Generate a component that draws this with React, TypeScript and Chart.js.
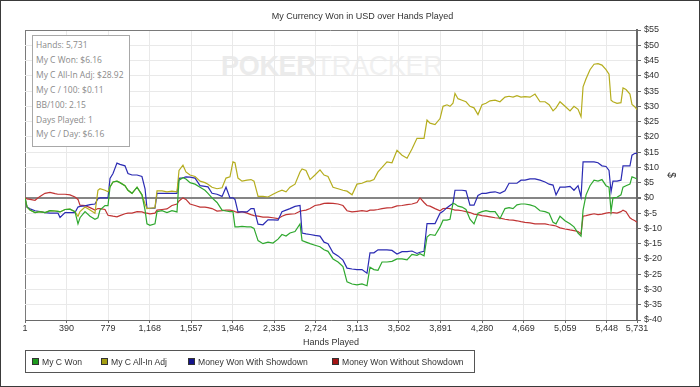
import React, { useEffect, useRef } from 'react';
import { Chart, registerables } from 'chart.js';

Chart.register(...registerables);

const chartTitle = 'My Currency Won in USD over Hands Played';
const xAxisTitle = 'Hands Played';
const yAxisTitle = '$';

const hands = [
  1, 20, 48, 95, 141, 188, 235, 282, 310, 329,
  376, 422, 469, 497, 516, 563, 610, 656, 684, 703,
  750, 778, 797, 825, 862, 890, 937, 965, 1003, 1050,
  1096, 1125, 1143, 1171, 1218, 1237, 1284, 1330, 1377, 1424,
  1443, 1480, 1508, 1546, 1593, 1640, 1686, 1714, 1752, 1799,
  1846, 1883, 1920, 1948, 1967, 1995, 2033, 2080, 2117, 2145,
  2183, 2229, 2276, 2323, 2370, 2407, 2445, 2482, 2529, 2576,
  2595, 2632, 2670, 2716, 2763, 2801, 2838, 2885, 2932, 2978,
  3016, 3063, 3109, 3156, 3203, 3231, 3268, 3306, 3344, 3390,
  3437, 3484, 3531, 3578, 3624, 3671, 3699, 3737, 3765, 3793,
  3840, 3887, 3915, 3952, 3980, 4008, 4027, 4055, 4093, 4130,
  4167, 4205, 4242, 4280, 4317, 4355, 4402, 4448, 4495, 4533,
  4570, 4607, 4645, 4682, 4729, 4776, 4823, 4870, 4908, 4945,
  4973, 5010, 5057, 5104, 5141, 5179, 5207, 5226, 5254, 5291,
  5329, 5366, 5403, 5441, 5469, 5488, 5506, 5544, 5581, 5600,
  5628, 5665, 5684, 5712, 5731,
];

const myCWon = [
  0, -3, -4, -4.8, -4.5, -4.8, -4.2, -4.3, -4.4, -4.6,
  -3.8, -3.7, -4.5, -8.5, -6.5, -4.5, -6, -7, -6.5, -4,
  -2.5, -2.5, 3.6, 5.2, 5.5, 5, 4, 2.5, 1.5, 3.5,
  1, -4, -8.5, -9, -8.5, -4.5, -4.2, -4.8, -4.2, -4.6,
  5.8, 6.6, 6.2, 5, 4.5, 3.5, 2.5, 1.5, 0, -1.5,
  -4, -4.3, -4.5, -4.5, -9.5, -9.5, -9.3, -9.5, -9.5, -10,
  -14, -15, -14.5, -14.8, -13.5, -12, -12.5, -11.5, -11, -8.5,
  -14, -14.5, -15, -15.5, -16, -17, -17.5, -20, -21, -22.5,
  -27.5, -28.2, -28.5, -28.2, -28.8, -22.7, -23.5, -23.7, -21, -21,
  -20.8, -20, -20, -20.3, -18.5, -18.8, -18.3, -19, -12.8, -12,
  -12.3, -9.5, -7.3, -7.3, -7, -1.8, -2, -2.7, -3, -3.8,
  -7, -8.5, -5, -4.5, -4.2, -4.5, -4.5, -6.8, -3.5, -3.2,
  -3.5, -2.3, -2, -2, -2.3, -2.8, -4.2, -4.5, -5, -8,
  -8.5, -6, -7.5, -8.5, -9.5, -11.5, -12.5, -4, 1, 4,
  5.8, 5.5, 6, 4, 3.5, -4.4, 0, 0.2, 1, 3.5,
  4, 4.5, 6.9, 6.5, 6.16,
];

const myCAllInAdj = [
  0, -3, -4, -4.8, -4.5, -4.8, -4.2, -4.3, -4.4, -4.6,
  -3.8, -3.7, -4.5, -6, -4.5, -3, -4, -5, 2.5, 3,
  2.5, 2, 3.6, 5.2, 5.5, 5, 4, 2.5, 1.5, 3.5,
  1, -2, -3.5, -3.4, -3.2, 2.3, 2.3, 2, 2.2, 2,
  9, 10.7, 8.5, 7.5, 7, 5.5, 5, 4.5, 3.5, 3,
  3.3, 6.5, 6.9, 11.8, 11.5, 6.5, 5.5, 5.8, 6, 5.5,
  0.5, 0.5, 0.3, 1.2, 2, 2.5, 2, 3.5, 4.5, 8.5,
  9.5, 9, 6, 7.5, 9.2, 7.5, 7, 3.5, 3, 2.5,
  2.2, 1, 4.5, 4.8, 5.5, 5.5, 6, 8.5, 10, 11.8,
  11.5, 15.6, 14, 13, 16, 19.5, 19.5, 19.5, 25.5, 24.5,
  24, 26, 30, 30.5, 30, 31, 34.2, 32.5, 32, 31.5,
  30, 29.5, 27.3, 30.5, 31, 31.8, 32, 31.5, 33, 33.3,
  33, 33.5, 33, 33.2, 33, 34, 31.5, 31.5, 30.5, 28.5,
  29.5, 31.5, 30, 28.5, 30, 29, 26.6, 36.4, 39, 42,
  43.8, 44, 43.5, 42, 40.5, 32, 31.5, 31, 31.2, 36,
  35.5, 34, 30.6, 29.8, 28.92,
];

const wonWithShowdown = [
  0, -3, -3.6, -4.2, -4.5, -4.8, -5, -5, -5, -6.4,
  -4.8, -4.8, -4.8, -3, -2.8, -2.6, -2.2, -2, -0.3, 0,
  0, 0, 6.4, 8, 11.4, 11, 10.5, 8, 7.5, 7.5,
  7, 3, -3.4, -3.4, -3.4, 1.5, 1.5, 1.5, 1.5, 1.5,
  6.4, 6.6, 6.9, 6.8, 6.5, 4, 3.8, 3.6, 1.5, 1.2,
  0.5, 3.5, 0, 0, -0.5, -4.6, -4.6, -4.6, -3.5, -3.5,
  -8.6, -8.8, -7.2, -7.2, -7.3, -4.5, -4, -3.5, -2.8, -2.5,
  -11.5, -11.8, -12, -12.3, -12.5, -14.5, -15, -18, -19, -20.4,
  -23, -23.3, -23.5, -23.5, -24.7, -18, -18, -17, -17, -17,
  -17.2, -18.4, -17.6, -17.6, -17.4, -18.2, -17.8, -17.5, -8.4, -8.4,
  -8.4, -5, -4.4, -3.2, -2.5, -1.8, 2.5, 2.5, 2.5, 2.3,
  -2.4, -2.4, 0.8, 1.5, 1.5, 1.8, 2, 1.5, 2.3, 4.8,
  4.8, 4.8, 5.8, 5.8, 6.2, 6.2, 5.8, 5.2, 4.5, 4.2,
  1, 3.5, 3.5, 3.8, 2.5, 4, 0.3, 11.8, 11.8, 11.8,
  11.8, 11.5, 10.5, 10.3, 9, 2, 5.5, 5.5, 5.8, 10.5,
  10.5, 10.5, 14, 14.6, 14.6,
];

const wonWithoutShowdown = [
  0, -0.3, -0.5, -0.8, 0.5, 1.5, 1.8, 1.4, 1.2, 1.2,
  1.2, 1, 0.3, -0.5, -2.4, -2.5, -3.2, -4, -3.5, -3.5,
  -3.8, -5.7, -5.8, -6, -6.2, -5.8, -5.2, -5, -5, -4.5,
  -4.6, -5, -5, -5.2, -5, -4, -3.8, -3.6, -2.5, -2,
  -1, 0, -0.5, -2, -2.5, -3, -3, -3.2, -3.5, -4.3,
  -4.2, -4, -4, -4.2, -4.5, -4.8, -4.5, -5, -5.5, -5.8,
  -6, -6.3, -6.3, -6.5, -6.8, -6, -5.5, -5.3, -5.2, -4.4,
  -4.2, -4, -3.5, -2.5, -2.2, -1.8, -1.7, -1.8, -2, -2.5,
  -4.2, -4.6, -4.4, -4.2, -4.4, -4, -4, -3.8, -3.5, -3.3,
  -3.2, -2.6, -2.5, -2.2, -2, -1.5, 0, -1.5, -2.5, -2.7,
  -3.5, -4.2, -3.5, -3.4, -3.5, -3.8, -4, -4, -4.2, -4.5,
  -4.8, -5.3, -5.5, -5.8, -6, -6.2, -6.5, -6.6, -7, -7.2,
  -7.3, -7.5, -7.8, -8, -8.2, -8.5, -8.5, -8.5, -8.8, -9,
  -9.2, -9.8, -10.2, -10.5, -10.7, -11, -11.8, -6, -5.8, -5.5,
  -5.2, -5.5, -5.3, -5, -4.8, -5, -4.8, -5, -4.5, -4,
  -4.5, -6.5, -7, -7.5, -8,
];

const xTickHands = [1, 390, 779, 1168, 1557, 1946, 2335, 2724, 3113, 3502, 3891, 4280, 4669, 5059, 5448, 5731];
const yMin = -40;
const yMax = 55;
const yStep = 5;

const seriesNames = ['My C Won', 'My C All-In Adj', 'Money Won With Showdown', 'Money Won Without Showdown'];
const seriesLineColors = ['#2fa82f', '#b5ad1e', '#2b2bb3', '#c03434'];
const seriesLegendColors = ['#1d9a1d', '#a49e12', '#14148c', '#a41414'];

const statLines = [
  'Hands: 5,731',
  'My C Won: $6.16',
  'My C All-In Adj: $28.92',
  'My C / 100: $0.11',
  'BB/100: 2.15',
  'Days Played: 1',
  'My C / Day: $6.16',
];

const FONT = "'Liberation Sans', Arial, sans-serif";
const TEXT = '#333333';
const legendItemWidths = [69, 87, 144, 140];

export default function App() {
  const canvasRef = useRef<HTMLCanvasElement | null>(null);

  useEffect(() => {
    document.body.style.margin = '0';
    const series = [myCWon, myCAllInAdj, wonWithShowdown, wonWithoutShowdown];
    const font = { family: FONT, size: 9, weight: 'normal' as const };
    const chart = new Chart(canvasRef.current as HTMLCanvasElement, {
      type: 'line',
      data: {
        datasets: series.map((vals, i) => ({
          label: seriesNames[i],
          data: hands.map((h, j) => ({ x: h, y: vals[j] })),
          borderColor: seriesLineColors[i],
          backgroundColor: seriesLineColors[i],
          borderWidth: 1.2,
          pointRadius: 0,
          tension: 0,
          fill: false,
        })),
      },
      options: {
        responsive: false,
        animation: false,
        events: [],
        layout: { padding: { left: 25, right: 0, top: 0, bottom: 37 } },
        plugins: {
          legend: { display: false },
          tooltip: { enabled: false },
          title: {
            display: true,
            text: chartTitle,
            color: TEXT,
            font,
            padding: { top: 11.6, bottom: 7.6 },
          },
        },
        scales: {
          x: {
            type: 'linear',
            min: xTickHands[0],
            max: xTickHands[xTickHands.length - 1],
            afterBuildTicks: (s: any) => {
              s.ticks = xTickHands.map((v) => ({ value: v }));
            },
            afterFit: (s: any) => {
              s.height = 30;
            },
            ticks: {
              autoSkip: false,
              maxRotation: 0,
              padding: 0,
              color: TEXT,
              font,
              callback: (v: any) => Number(v).toLocaleString('en-US'),
            },
            grid: {
              color: (c: any) => (c.tick && c.tick.value === xTickHands[0] ? '#7a7a7a' : '#e9e9e9'),
              tickColor: '#6a6a6a',
              tickLength: 3,
            },
            border: { color: '#6a6a6a', width: 1 },
            title: {
              display: true,
              text: xAxisTitle,
              color: TEXT,
              font,
              padding: { top: 0, bottom: 2 },
            },
          },
          y: {
            position: 'right',
            min: yMin,
            max: yMax,
            afterFit: (s: any) => {
              s.width = 63;
            },
            ticks: {
              stepSize: yStep,
              padding: 3,
              color: TEXT,
              font,
              callback: (v: any) => '$' + v,
            },
            grid: {
              color: (c: any) =>
                c.tick && c.tick.value === 0 ? '#858585' : c.tick && c.tick.value === yMax ? '#7a7a7a' : '#e9e9e9',
              lineWidth: (c: any) => (c.tick && c.tick.value === 0 ? 2 : 1),
              tickColor: '#6a6a6a',
              tickLength: 4,
            },
            border: { color: '#6a6a6a', width: 2 },
            title: {
              display: true,
              text: yAxisTitle,
              color: TEXT,
              font: { family: FONT, size: 10, weight: 'normal' as const },
              padding: { top: 23.5, bottom: 0 },
            },
          },
        },
      } as any,
    });
    return () => chart.destroy();
  }, []);

  return (
    <div style={{ position: 'fixed', left: 0, top: 0, width: 700, height: 387, background: '#ffffff', overflow: 'hidden' }}>
      <div
        style={{
          position: 'absolute',
          left: 221,
          top: 50,
          fontFamily: FONT,
          fontSize: 27,
          lineHeight: '32px',
          whiteSpace: 'nowrap',
          letterSpacing: '-0.3px',
        }}
      >
        <span style={{ color: '#ebebeb', fontWeight: 'bold' }}>POKER</span>
        <span style={{ color: '#f0f0f0' }}>TRACKER</span>
      </div>
      <canvas ref={canvasRef} width={700} height={387} style={{ position: 'absolute', left: 0, top: 0 }} />
      <div
        style={{
          position: 'absolute',
          left: 32,
          top: 35,
          width: 98,
          height: 112,
          boxSizing: 'border-box',
          border: '1px solid #a8a8a8',
          background: '#ffffff',
          padding: '2px 0 0 3px',
          fontFamily: "'Open Sans', sans-serif",
          fontSize: 8.5,
          lineHeight: '14.9px',
          color: '#8a8a8a',
          whiteSpace: 'nowrap',
        }}
      >
        {statLines.map((t) => (
          <div key={t}>{t}</div>
        ))}
      </div>
      <div
        style={{
          position: 'absolute',
          left: 25,
          top: 350,
          width: 450,
          height: 23,
          boxSizing: 'border-box',
          border: '1px solid #555555',
          display: 'flex',
          alignItems: 'center',
          paddingLeft: 6,
          fontFamily: FONT,
          fontSize: 8.6,
          color: TEXT,
          whiteSpace: 'nowrap',
          overflow: 'hidden',
        }}
      >
        {seriesNames.map((n, i) => (
          <div key={n} style={{ display: 'flex', alignItems: 'center', width: legendItemWidths[i], flex: 'none' }}>
            <span
              style={{
                display: 'inline-block',
                width: 7,
                height: 7,
                boxSizing: 'border-box',
                background: seriesLegendColors[i],
                border: '1px solid #333',
                marginRight: 3,
                flex: 'none',
              }}
            />
            <span>{n}</span>
          </div>
        ))}
      </div>
      <div
        style={{
          position: 'absolute',
          left: 0,
          top: 0,
          width: 700,
          height: 387,
          boxSizing: 'border-box',
          border: '1px solid #3a3a3a',
          pointerEvents: 'none',
        }}
      />
    </div>
  );
}
